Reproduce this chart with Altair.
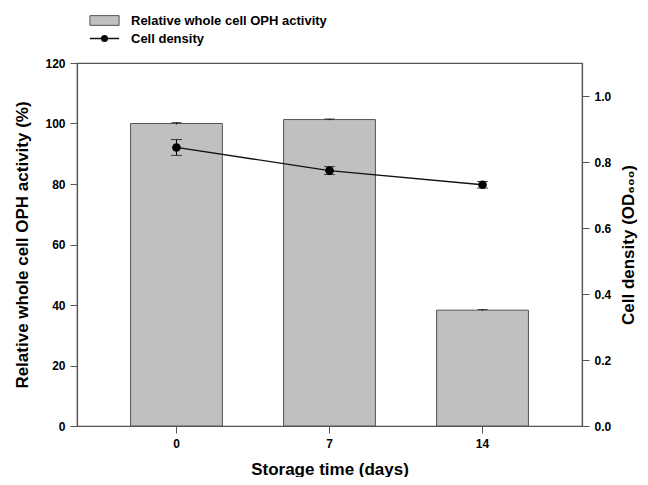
import altair as alt
import pandas as pd

days = ["0", "7", "14"]
activity = [100.0, 101.3, 38.3]
activity_err = [0.3, 0.2, 0.2]
density = [0.844, 0.774, 0.731]
density_err = [0.024, 0.012, 0.010]

df = pd.DataFrame({
    "day": days,
    "activity": activity,
    "act_lo": [a - e for a, e in zip(activity, activity_err)],
    "act_hi": [a + e for a, e in zip(activity, activity_err)],
    "density": density,
    "den_lo": [d - e for d, e in zip(density, density_err)],
    "den_hi": [d + e for d, e in zip(density, density_err)],
    "bar_label": ["Relative whole cell OPH activity"] * 3,
    "line_label": ["Cell density"] * 3,
})

FONT = "Liberation Sans, Arial, DejaVu Sans"
AX = "#555555"

x = alt.X("day:N", sort=days, title="Storage time (days)",
          scale=alt.Scale(paddingInner=0.4, paddingOuter=0.35),
          axis=alt.Axis(labelAngle=0, titlePadding=12))

yl_scale = alt.Scale(domain=[0, 120])
yr_scale = alt.Scale(domain=[0, 1.1])

left_axis = alt.Axis(values=[0, 20, 40, 60, 80, 100, 120], title="Relative whole cell OPH activity (%)",
                     titlePadding=13, grid=False)
right_axis = alt.Axis(orient="right", values=[0, 0.2, 0.4, 0.6, 0.8, 1.0], format=".1f",
                      title="Cell density (OD₆₀₀)", titleAngle=270, titlePadding=27, grid=False)

bar_sym = "M-1.5,-0.5H1.5V0.5H-1.5Z"
line_sym = "M-1.5,0H1.5M0.3,0A0.3,0.3,0,1,1,-0.3,0A0.3,0.3,0,1,1,0.3,0Z"

leg_common = dict(orient="none", title=None, symbolSize=380, labelFontSize=13, labelFont=FONT,
                  labelFontWeight="bold", padding=0, labelOffset=16, labelLimit=400)

bars = alt.Chart(df).mark_bar(stroke=AX, strokeWidth=1).encode(
    x=x,
    y=alt.Y("activity:Q", scale=yl_scale, axis=left_axis),
    fill=alt.Fill("bar_label:N", scale=alt.Scale(range=["#c0c0c0"]),
                  legend=alt.Legend(legendX=17, legendY=-53, symbolType=bar_sym,
                                    symbolStrokeColor=AX, symbolStrokeWidth=1, **leg_common)),
)
bar_err = alt.Chart(df).mark_rule(color="black", strokeWidth=1).encode(
    x=x, y=alt.Y("act_lo:Q", scale=yl_scale), y2="act_hi:Q")
bar_cap = alt.Chart(df).mark_tick(color="black", thickness=1, size=10).encode(
    x=x, y=alt.Y("act_hi:Q", scale=yl_scale))

left = alt.layer(bars, bar_err, bar_cap)

line = alt.Chart(df).mark_line(color="#333333", strokeWidth=1.3).encode(
    x=x,
    y=alt.Y("density:Q", scale=yr_scale, axis=right_axis),
    stroke=alt.Stroke("line_label:N", scale=alt.Scale(range=["#111111"]),
                      legend=alt.Legend(legendX=17, legendY=-35, symbolType=line_sym,
                                        symbolFillColor="black", symbolStrokeWidth=1.3, **leg_common)),
)
den_err = alt.Chart(df).mark_rule(color="black", strokeWidth=1).encode(
    x=x, y=alt.Y("den_lo:Q", scale=yr_scale), y2="den_hi:Q")
den_cap_hi = alt.Chart(df).mark_tick(color="black", thickness=1, size=11).encode(
    x=x, y=alt.Y("den_hi:Q", scale=yr_scale))
den_cap_lo = alt.Chart(df).mark_tick(color="black", thickness=1, size=11).encode(
    x=x, y=alt.Y("den_lo:Q", scale=yr_scale))
pts = alt.Chart(df).mark_point(filled=True, color="black", size=75, opacity=1).encode(
    x=x, y=alt.Y("density:Q", scale=yr_scale))

right = alt.layer(line, den_err, den_cap_hi, den_cap_lo, pts)

chart = alt.layer(left, right).resolve_scale(y="independent", fill="independent", stroke="independent").properties(
    width=505, height=363,
    autosize=alt.AutoSizeParams(type="none"),
    padding={"left": 69, "top": 55, "right": 58, "bottom": 51},
).configure_view(stroke=AX, strokeWidth=1.2).configure_axis(
    labelFont=FONT, labelFontWeight="bold", labelFontSize=12, labelColor="black",
    titleFont=FONT, titleFontWeight="bold", titleFontSize=17, titleColor="black",
    domainColor=AX, tickColor=AX, tickSize=7, labelPadding=5, domainWidth=1.2,
).configure_legend(labelColor="black")

chart.save("out.html", embed_options={"renderer": "svg", "actions": False})
